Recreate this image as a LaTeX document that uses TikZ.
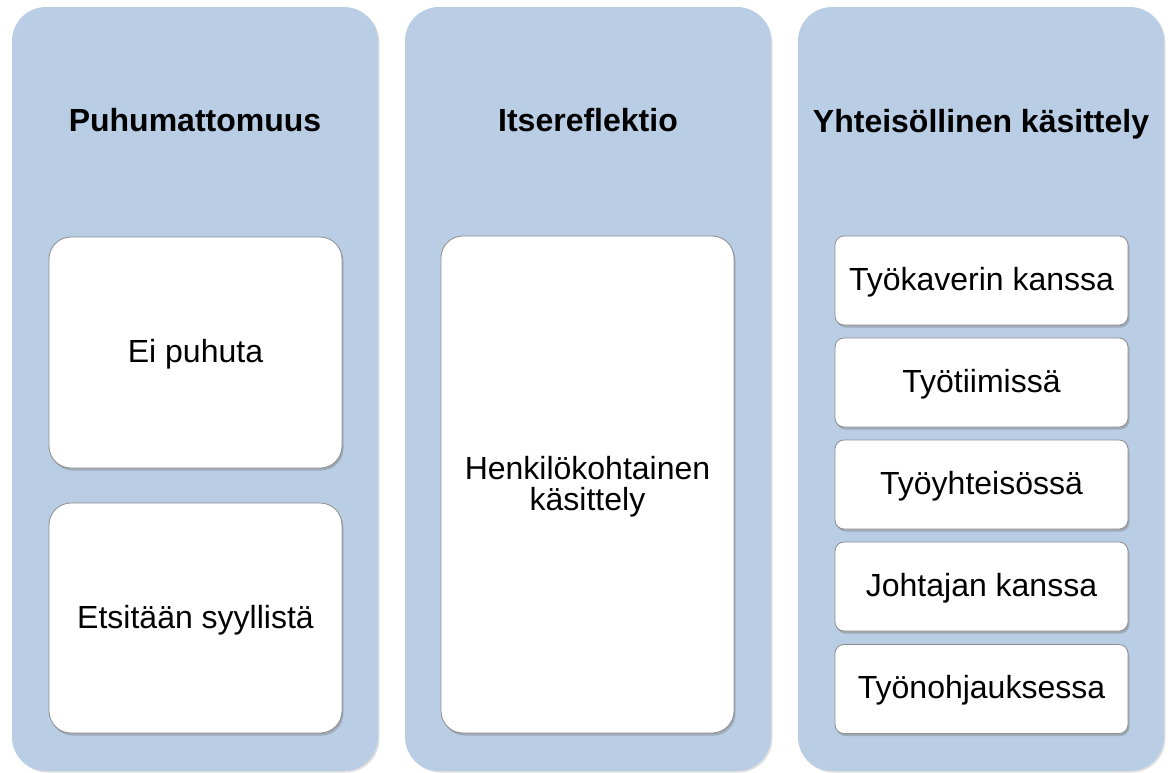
\documentclass[tikz,border=0pt]{standalone}
\usepackage{fontspec}
\setmainfont{Liberation Sans}
\usetikzlibrary{shadows}
\definecolor{panelblue}{HTML}{B9CDE5}
\definecolor{boxline}{HTML}{8C8C8C}
\begin{document}
\begin{tikzpicture}[x=1pt,y=-1pt,
  panel/.style={rectangle,rounded corners=34pt,fill=panelblue,draw=none,
    minimum width=366pt,minimum height=764pt,inner sep=0pt,
    drop shadow={opacity=0.25,shadow xshift=1.5pt,shadow yshift=-1.5pt}},
  title/.style={font=\fontsize{32}{31}\selectfont\bfseries,inner sep=0pt,
    text height=23.4pt,text depth=2.6pt},
  bigbox/.style={rectangle,rounded corners=22pt,fill=white,draw=boxline,line width=0.8pt,
    minimum width=293pt,inner sep=0pt,align=center,
    text height=23.4pt,text depth=2.6pt,
    font=\fontsize{32}{31}\selectfont,
    drop shadow={opacity=0.45,shadow xshift=1.5pt,shadow yshift=-2.5pt}},
  smallbox/.style={rectangle,rounded corners=9pt,fill=white,draw=boxline,line width=0.8pt,
    minimum width=293pt,minimum height=89pt,inner sep=0pt,align=center,
    text height=23pt,text depth=3.8pt,
    font=\fontsize{32}{31}\selectfont,
    drop shadow={opacity=0.45,shadow xshift=1.5pt,shadow yshift=-2.5pt}}]
\useasboundingbox (0,0) rectangle (1168,772);
\node[panel] (p1) at (195,389) {};
\node[panel] (p2) at (588,389) {};
\node[panel] (p3) at (981,389) {};
\node[title] (t1) at (195,121) {Puhumattomuus};
\node[title] (t2) at (588,121) {Itsereflektio};
\node[title] (t3) at (981,122) {Yhteisöllinen käsittely};
\node[bigbox,minimum height=231pt] (b1) at (195.5,352.5) {Ei puhuta};
\node[bigbox,minimum height=230pt] (b2) at (195.5,618) {Etsitään syyllistä};
\node[bigbox,minimum height=497pt,text height=55.4pt] (b3) at (587.5,484.5) {Henkilökohtainen\\käsittely};
\node[smallbox] (c1) at (981.5,280.5) {Työkaverin kanssa};
\node[smallbox] (c2) at (981.5,382.5) {Työtiimissä};
\node[smallbox] (c3) at (981.5,484.5) {Työyhteisössä};
\node[smallbox] (c4) at (981.5,586.5) {Johtajan kanssa};
\node[smallbox] (c5) at (981.5,689) {Työnohjauksessa};
\end{tikzpicture}
\end{document}
